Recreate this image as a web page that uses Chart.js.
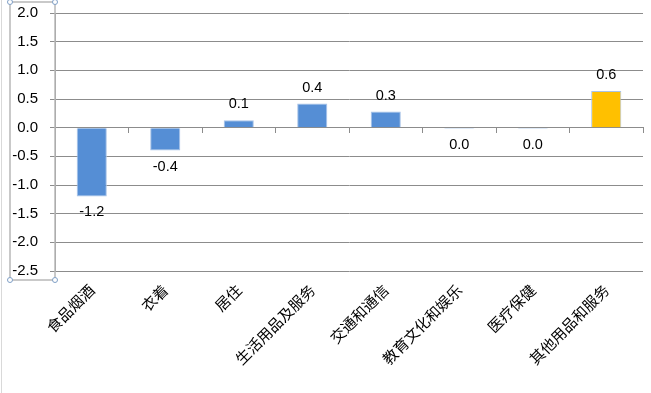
<!DOCTYPE html>
<html>
<head>
<meta charset="utf-8">
<script src="https://cdn.jsdelivr.net/npm/chart.js@4/dist/chart.umd.min.js"></script>
<style>
html,body{margin:0;padding:0;background:#fff;}
#wrap{width:651px;height:393px;position:relative;}
</style>
</head>
<body>
<div id="wrap"><canvas id="c" width="651" height="393"></canvas></div>
<script>
const categories = ["食品烟酒","衣着","居住","生活用品及服务","交通和通信","教育文化和娱乐","医疗保健","其他用品和服务"];
const values = [-1.2, -0.4, 0.13, 0.42, 0.28, -0.02, -0.02, 0.64];
const valueLabels = ["-1.2","-0.4","0.1","0.4","0.3","0.0","0.0","0.6"];
const yTicks = [2.0, 1.5, 1.0, 0.5, 0.0, -0.5, -1.0, -1.5, -2.0, -2.5];

const BLUE = "#558ED5", GOLD = "#FFC000";
const barColors = values.map((v,i)=> i === values.length-1 ? GOLD : BLUE);

const labelPlugin = {
  id: 'valLabels',
  afterDatasetsDraw(chart){
    const ctx = chart.ctx;
    const meta = chart.getDatasetMeta(0);
    ctx.save();
    ctx.font = '14.5px "Liberation Sans", Arial, sans-serif';
    ctx.fillStyle = '#000';
    ctx.textAlign = 'center';
    ctx.textBaseline = 'middle';
    meta.data.forEach((bar,i)=>{
      const v = values[i];
      const y = v >= 0 ? bar.y - 16 : bar.y + 16;
      ctx.fillText(valueLabels[i], bar.x, y);
    });
    ctx.restore();
  }
};

const frame = {
  id: 'frame',
  afterDraw(chart){
    const ctx = chart.ctx;
    const ys = chart.scales.y;
    const l = 10, r = ys.right, t = 2, b = chart.chartArea.bottom + 9;
    ctx.save();
    ctx.strokeStyle = '#d9d9d9';
    ctx.lineWidth = 1;
    ctx.beginPath(); ctx.moveTo(1.5,0); ctx.lineTo(1.5,393); ctx.stroke();
    ctx.strokeStyle = '#b8b8b8';
    ctx.lineWidth = 1.5;
    ctx.strokeRect(l, t, r - l, b - t);
    ctx.fillStyle = '#fff';
    ctx.strokeStyle = '#7f9fc6';
    ctx.lineWidth = 1;
    [[l,t],[r,t],[l,b],[r,b]].forEach(([x,y])=>{
      ctx.beginPath(); ctx.arc(x,y,2.5,0,Math.PI*2); ctx.fill(); ctx.stroke();
    });
    ctx.restore();
  }
};

new Chart(document.getElementById('c'), {
  type: 'bar',
  data: {
    labels: categories,
    datasets: [{
      data: values,
      backgroundColor: barColors,
      borderColor: '#a9c3e8',
      borderWidth: 1,
      barPercentage: 0.41,
      categoryPercentage: 1.0
    }]
  },
  options: {
    responsive: false,
    animation: false,
    devicePixelRatio: 1,
    layout: { padding: { left: 0, right: 8, top: 13, bottom: 0 } },
    plugins: { legend: { display: false }, tooltip: { enabled: false } },
    scales: {
      y: {
        min: -2.5, max: 2.0,
        afterBuildTicks(s){ s.ticks = yTicks.map(v=>({value:v})); },
        afterFit(s){ s.width = 55; s.paddingTop = 0; s.paddingBottom = 0; },
        ticks: {
          color: '#000',
          font: { family: '"Liberation Sans", Arial, sans-serif', size: 15 },
          padding: 12,
          callback: v => Number(v).toFixed(1)
        },
        grid: { color: '#8c8c8c', lineWidth: 1, tickLength: 5, drawTicks: true },
        border: { display: true, color: '#8c8c8c' }
      },
      x: {
        position: 'bottom',
        afterFit(s){ s.height = 122; s.paddingLeft = 0; s.paddingRight = 0; },
        ticks: {
          color: '#000',
          font: { family: '"Noto Sans CJK SC", sans-serif', size: 15 },
          minRotation: 45, maxRotation: 45,
          padding: 10,
          autoSkip: false
        },
        grid: { display: false, drawTicks: false },
        border: { display: false }
      },
      x2: {
        position: { y: 0 },
        type: 'category',
        labels: categories,
        offset: true,
        ticks: { display: false },
        grid: { drawOnChartArea: false, drawTicks: true, tickLength: 5, color: '#8c8c8c', offset: true },
        border: { display: true, color: '#8c8c8c' }
      }
    }
  },
  plugins: [labelPlugin, frame]
});
</script>
</body>
</html>
